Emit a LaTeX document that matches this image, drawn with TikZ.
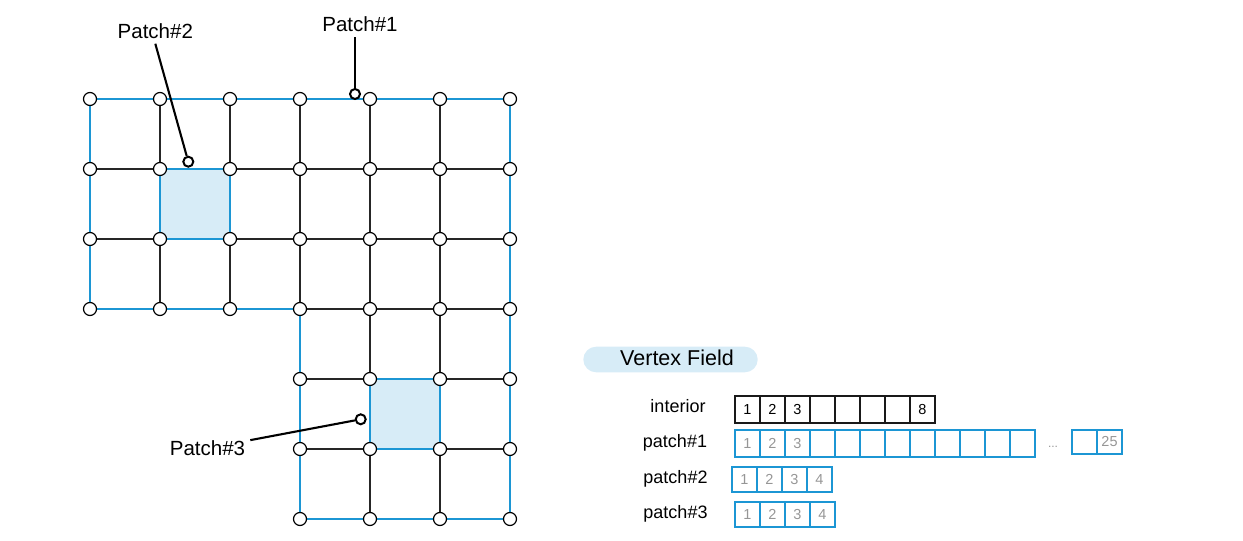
\documentclass[tikz,border=0pt]{standalone}
\usepackage{fontspec}
\setmainfont{Liberation Sans}
\definecolor{mblue}{RGB}{28,150,212}
\definecolor{mfill}{RGB}{215,236,247}
\definecolor{mgray}{RGB}{150,150,150}
\begin{document}
\begin{tikzpicture}[x=1pt,y=-1pt,
  gridline/.style={line width=1.3pt,black!85},
  bound/.style={line width=2.8pt,mblue},
  patchsq/.style={fill=mfill,draw=mblue,line width=2.8pt},
  vtx/.style={circle,draw=black,fill=white,line width=1.2pt,inner sep=0pt,minimum size=13pt},
  pin/.style={circle,draw=black,fill=white,line width=2pt,inner sep=0pt,minimum size=10pt},
  leader/.style={line width=2.1pt,black},
  biglab/.style={font=\fontsize{20.5}{24}\selectfont,inner sep=5pt,anchor=base},
  rowlab/.style={font=\fontsize{18}{21}\selectfont,inner sep=0pt,anchor=base},
  ibox/.style={draw=black!90,line width=1.5pt,minimum width=25pt,minimum height=27pt,inner sep=0pt,font=\fontsize{14.5}{16}\selectfont},
  pbox/.style={draw=mblue,line width=1.5pt,minimum width=25pt,minimum height=27pt,inner sep=0pt,text=mgray,font=\fontsize{14.5}{16}\selectfont},
  pill/.style={fill=mfill,rounded corners=12.8pt,minimum width=174.4pt,minimum height=25.6pt,inner sep=0pt},
  vftext/.style={font=\fontsize{21.5}{25}\selectfont,inner sep=0pt,anchor=base},
]
\useasboundingbox (0,0) rectangle (1243,541);
% mesh vertex positions
\foreach \i in {0,...,6} \foreach \j in {0,...,6}
  \coordinate (p-\i-\j) at ({90+70*\i},{99+70*\j});
% interior grid lines
\foreach \j in {0,...,3} \draw[gridline] (p-0-\j) -- (p-6-\j);
\foreach \j in {4,5,6} \draw[gridline] (p-3-\j) -- (p-6-\j);
\foreach \i in {0,1,2} \draw[gridline] (p-\i-0) -- (p-\i-3);
\foreach \i in {3,...,6} \draw[gridline] (p-\i-0) -- (p-\i-6);
% patch #1 boundary
\draw[bound] (p-0-0) -- (p-6-0) -- (p-6-6) -- (p-3-6) -- (p-3-3) -- (p-0-3) -- cycle;
% patches #2 and #3
\draw[patchsq] (p-1-1) rectangle (p-2-2);
\draw[patchsq] (p-4-4) rectangle (p-5-5);
% vertices
\foreach \i in {0,...,6} \foreach \j in {0,...,3}
  \node[vtx] (v-\i-\j) at (p-\i-\j) {};
\foreach \i in {3,...,6} \foreach \j in {4,5,6}
  \node[vtx] (v-\i-\j) at (p-\i-\j) {};
% labels with leaders
\node[biglab] (lab1) at (360,31.7) {Patch\#1};
\node[pin] (c1) at (355,94) {};
\draw[leader] (lab1.south -| c1) -- (c1);
\node[biglab] (lab2) at (155.3,38.3) {Patch\#2};
\node[pin] (c2) at (188.3,161.7) {};
\draw[leader] (lab2.south) -- (c2);
\node[biglab] (lab3) at (207.5,455) {Patch\#3};
\node[pin] (c3) at (360.7,419.3) {};
\draw[leader] (lab3.10) -- (c3);
% vertex field table
\node[pill] (vf) at (670.5,359.5) {};
\node[vftext] (vft) at (677,365.7) {Vertex Field};
\node[rowlab] (rl0) at (678,412) {interior};
\node[rowlab] (rl1) at (675,447) {patch\#1};
\node[rowlab] (rl2) at (675.5,483) {patch\#2};
\node[rowlab] (rl3) at (675.5,518.5) {patch\#3};
\foreach[count=\k] \t in {1,2,3,{},{},{},{},8}
  \node[ibox] (int-\k) at ({722.5+25*\k},409.5) {\t};
\foreach[count=\k] \t in {1,2,3,{},{},{},{},{},{},{},{},{}}
  \node[pbox] (pa-\k) at ({722.5+25*\k},443.5) {\t};
\node[text=mgray,font=\fontsize{12}{14}\selectfont,inner sep=0pt,anchor=base] (dots) at (1053,447.5) {...};
\node[pbox,minimum height=24pt] (pa-y) at (1084.5,442) {};
\node[pbox,minimum height=24pt] (pa-z) at (1109.5,442) {25};
\foreach[count=\k] \t in {1,2,3,4}
  \node[pbox,minimum height=25pt] (pb-\k) at ({719.5+25*\k},479.5) {\t};
\foreach[count=\k] \t in {1,2,3,4}
  \node[pbox,minimum height=25pt] (pc-\k) at ({722.5+25*\k},514.5) {\t};
\end{tikzpicture}
\end{document}
